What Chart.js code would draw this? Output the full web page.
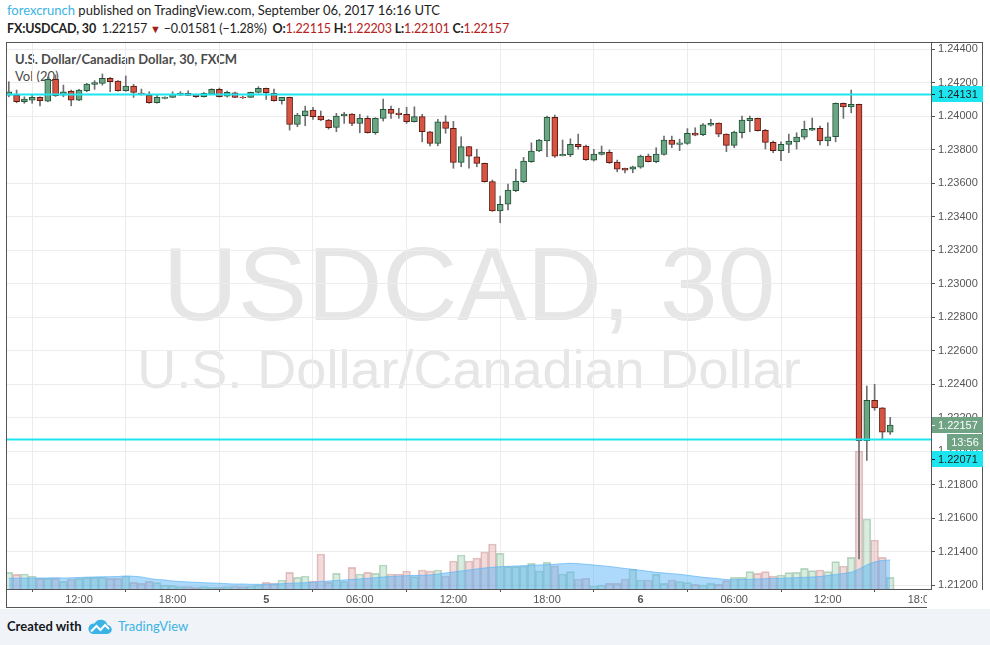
<!DOCTYPE html>
<html>
<head>
<meta charset="utf-8">
<script src="https://cdn.jsdelivr.net/npm/chart.js@4.4.0/dist/chart.umd.min.js"></script>
<style>
  html, body { margin: 0; padding: 0; }
  body { width: 990px; height: 645px; background: #fff; position: relative; overflow: hidden; font-family: Lato, 'Liberation Sans', sans-serif; }
  .abs { position: absolute; white-space: nowrap; }
  #head1 { left: 7px; top: 2px; font-size: 13px; color: #1e1e1e; }
  #head1 .who { color: #3bb3e4; }
  #head2 { left: 7px; top: 21px; font-size: 12.5px; color: #1e1e1e; font-weight: bold; letter-spacing: -0.15px; }
  #head2 .n { font-weight: normal; }
  #head2 .r { color: #b5201b; font-weight: normal; }
  #head2 .dn { color: #a31c15; font-size: 11px; }
  #panel { left: 6px; top: 42px; width: 977px; height: 566px; box-sizing: border-box; border: 1px solid #555; background: #fff; }
  #wm1 { left: 7px; width: 924px; top: 232px; text-align: center; font: 104px/104px 'Liberation Sans', Arial, sans-serif; color: #e6e6e6; }
  #wm2 { left: 7px; width: 924px; top: 342px; text-align: center; font: 54px/54px 'Liberation Sans', Arial, sans-serif; color: #e6e6e6; }
  #title { left: 15px; top: 51px; font-size: 13px; font-weight: bold; color: #4b4b4b; }
  #vol { left: 15px; top: 68px; font-size: 13px; color: #4b4b4b; }
  #foot { left: 0; top: 609px; width: 990px; height: 36px; background: #f0f3f7; }
  #created { left: 7px; top: 618px; font-size: 13px; font-weight: bold; color: #131722; }
  #logo { left: 88px; top: 619px; }
  #tv { left: 118px; top: 618px; font-size: 13px; color: #3bb3e4; }
  canvas { position: absolute; left: 0; top: 0; z-index: 2; }
</style>
</head>
<body>
<div class="abs" id="head1"><span class="who">forexcrunch</span> published on TradingView.com, September 06, 2017 16:16 UTC</div>
<div class="abs" id="head2">FX:USDCAD, 30&nbsp;&nbsp;<span class="n">1.22157</span> <span class="dn">&#9660;</span> <span class="n">&minus;0.01581 (&minus;1.28%)</span>&nbsp; O:<span class="r">1.22115</span> H:<span class="r">1.22203</span> L:<span class="r">1.22101</span> C:<span class="r">1.22157</span></div>
<div class="abs" id="panel"></div>
<div class="abs" id="wm1">USDCAD, 30</div>
<div class="abs" id="wm2">U.S. Dollar/Canadian Dollar</div>
<div class="abs" id="title">U.S. Dollar/Canadian Dollar, 30, FXCM</div>
<div class="abs" id="vol">Vol (20)</div>
<div class="abs" id="foot"></div>
<div class="abs" id="created">Created with</div>
<svg class="abs" id="logo" width="24" height="16" viewBox="0 0 24 16">
  <path d="M5 15 H19 A4.5 4.5 0 0 0 19.5 6 A7 7 0 0 0 6.5 4.5 A5.2 5.2 0 0 0 5 15Z" fill="#3bb3e4"/>
  <polyline points="3,12.5 8.5,7 12.5,11 17,6 21,10" fill="none" stroke="#fff" stroke-width="2"/>
</svg>
<div class="abs" id="tv">TradingView</div>
<canvas id="chart" width="990" height="645"></canvas>
<script>
// time axis: bar index -> label (30 min bars, bar 0 = Sep 4 07:30)
const timeIdx = [9, 21, 33, 45, 57, 69, 81, 93, 105, 117];
const timeLabels = ['12:00', '18:00', '5', '06:00', '12:00', '18:00', '6', '06:00', '12:00', '18:00'];
const dayLabels = ['5', '6'];
const priceTicks = [1.212, 1.214, 1.216, 1.218, 1.220, 1.222, 1.224, 1.226, 1.228, 1.230, 1.232, 1.234, 1.236, 1.238, 1.240, 1.242, 1.244];

const opens = [1.24127, 1.24127, 1.24087, 1.24097, 1.24113, 1.24091, 1.24221, 1.24127, 1.24151, 1.24097,
  1.24153, 1.24191, 1.24197, 1.24227, 1.24211, 1.24153, 1.24181, 1.24139, 1.24127, 1.24081,
  1.24107, 1.24113, 1.24127, 1.24137, 1.24131, 1.24117, 1.24133, 1.24161, 1.24121, 1.24141,
  1.24115, 1.24113, 1.24143, 1.24167, 1.24137, 1.24093, 1.24113, 1.23952, 1.24004, 1.24038,
  1.24002, 1.23978, 1.23934, 1.24002, 1.24014, 1.23958, 1.23988, 1.23902, 1.23988, 1.24042,
  1.24020, 1.24012, 1.23968, 1.23998, 1.23908, 1.23839, 1.23968, 1.23928, 1.23725, 1.23819,
  1.23759, 1.23719, 1.23610, 1.23435, 1.23475, 1.23556, 1.23610, 1.23729, 1.23793, 1.23854,
  1.23994, 1.23765, 1.23771, 1.23833, 1.23823, 1.23739, 1.23773, 1.23785, 1.23727, 1.23690,
  1.23684, 1.23696, 1.23763, 1.23729, 1.23772, 1.23859, 1.23833, 1.23839, 1.23900, 1.23890,
  1.23947, 1.23960, 1.23894, 1.23827, 1.23902, 1.23974, 1.23988, 1.23916, 1.23845, 1.23795,
  1.23833, 1.23848, 1.23875, 1.23918, 1.23928, 1.23854, 1.23878, 1.24078, 1.24057, 1.24072,
  1.22063, 1.22305, 1.22259, 1.22115];
const highs = [1.24207, 1.24157, 1.24117, 1.24127, 1.24117, 1.24236, 1.24247, 1.24187, 1.24157, 1.24161,
  1.24197, 1.24213, 1.24253, 1.24232, 1.24214, 1.24241, 1.24191, 1.24163, 1.24147, 1.24127,
  1.24117, 1.24147, 1.24147, 1.24153, 1.24133, 1.24143, 1.24165, 1.24169, 1.24151, 1.24145,
  1.24121, 1.24145, 1.24177, 1.24169, 1.24163, 1.24113, 1.24115, 1.24018, 1.24061, 1.24054,
  1.24032, 1.23982, 1.24018, 1.24024, 1.24017, 1.24012, 1.24002, 1.23992, 1.24103, 1.24061,
  1.24048, 1.24054, 1.24057, 1.24012, 1.23911, 1.23982, 1.24004, 1.23970, 1.23878, 1.23821,
  1.23803, 1.23721, 1.23620, 1.23524, 1.23596, 1.23685, 1.23755, 1.23842, 1.23863, 1.24002,
  1.24008, 1.23859, 1.23866, 1.23894, 1.23829, 1.23803, 1.23823, 1.23799, 1.23739, 1.23691,
  1.23703, 1.23769, 1.23775, 1.23813, 1.23882, 1.23882, 1.23864, 1.23927, 1.23932, 1.23957,
  1.23983, 1.23961, 1.23896, 1.23912, 1.24002, 1.24002, 1.23990, 1.23922, 1.23853, 1.23848,
  1.23894, 1.23902, 1.23972, 1.23990, 1.23942, 1.23962, 1.24080, 1.24080, 1.24157, 1.24073,
  1.22390, 1.22400, 1.22261, 1.22203];
const lows = [1.24117, 1.24081, 1.24078, 1.24078, 1.24063, 1.24087, 1.24119, 1.24117, 1.24063, 1.24094,
  1.24147, 1.24161, 1.24187, 1.24147, 1.24151, 1.24150, 1.24113, 1.24127, 1.24078, 1.24078,
  1.24104, 1.24112, 1.24125, 1.24124, 1.24113, 1.24115, 1.24131, 1.24115, 1.24115, 1.24112,
  1.24106, 1.24112, 1.24139, 1.24101, 1.24091, 1.24073, 1.23918, 1.23938, 1.23944, 1.23982,
  1.23974, 1.23924, 1.23908, 1.23958, 1.23944, 1.23902, 1.23900, 1.23893, 1.23972, 1.23988,
  1.23988, 1.23958, 1.23966, 1.23848, 1.23824, 1.23824, 1.23899, 1.23690, 1.23699, 1.23690,
  1.23699, 1.23607, 1.23433, 1.23365, 1.23441, 1.23550, 1.23604, 1.23725, 1.23789, 1.23759,
  1.23755, 1.23763, 1.23759, 1.23805, 1.23737, 1.23733, 1.23769, 1.23719, 1.23669, 1.23663,
  1.23663, 1.23690, 1.23727, 1.23723, 1.23769, 1.23813, 1.23795, 1.23833, 1.23884, 1.23885,
  1.23942, 1.23878, 1.23789, 1.23813, 1.23872, 1.23908, 1.23912, 1.23805, 1.23783, 1.23735,
  1.23783, 1.23805, 1.23863, 1.23915, 1.23829, 1.23824, 1.23848, 1.23988, 1.24021, 1.21357,
  1.21946, 1.22245, 1.22075, 1.22101];
const closes = [1.24147, 1.24087, 1.24103, 1.24113, 1.24093, 1.24221, 1.24123, 1.24147, 1.24097, 1.24157,
  1.24193, 1.24201, 1.24227, 1.24207, 1.24153, 1.24181, 1.24143, 1.24136, 1.24081, 1.24113,
  1.24113, 1.24131, 1.24139, 1.24125, 1.24117, 1.24137, 1.24161, 1.24117, 1.24143, 1.24113,
  1.24111, 1.24143, 1.24167, 1.24141, 1.24093, 1.24113, 1.23952, 1.24008, 1.24033, 1.23998,
  1.23978, 1.23932, 1.24002, 1.24014, 1.23958, 1.23988, 1.23902, 1.23988, 1.24042, 1.24018,
  1.24010, 1.23968, 1.23998, 1.23908, 1.23839, 1.23968, 1.23928, 1.23725, 1.23819, 1.23763,
  1.23719, 1.23610, 1.23436, 1.23475, 1.23560, 1.23614, 1.23733, 1.23793, 1.23859, 1.23994,
  1.23763, 1.23773, 1.23833, 1.23819, 1.23741, 1.23775, 1.23787, 1.23723, 1.23685, 1.23679,
  1.23699, 1.23763, 1.23729, 1.23775, 1.23859, 1.23832, 1.23842, 1.23899, 1.23888, 1.23949,
  1.23959, 1.23893, 1.23827, 1.23906, 1.23978, 1.23988, 1.23914, 1.23845, 1.23795, 1.23833,
  1.23853, 1.23876, 1.23922, 1.23928, 1.23854, 1.23878, 1.24078, 1.24057, 1.24072, 1.22063,
  1.22305, 1.22259, 1.22115, 1.22157];
const volumes = [1670, 1470, 1500, 1300, 1070, 1070, 1070, 770, 1000, 1070,
  1170, 1170, 1170, 1070, 1070, 1300, 670, 570, 770, 630,
  400, 330, 230, 230, 170, 230, 170, 170, 230, 300,
  230, 300, 400, 670, 570, 900, 1670, 1170, 1300, 800,
  3500, 670, 1570, 730, 2170, 1500, 1670, 1570, 2400, 1500,
  1500, 1800, 1230, 1900, 1800, 1900, 1300, 2800, 3400, 2800,
  3100, 3700, 4500, 3570, 2230, 2230, 2300, 2570, 1800, 2670,
  2300, 1500, 1730, 1000, 1070, 300, 400, 570, 570, 1000,
  1970, 900, 900, 1470, 570, 900, 730, 630, 470, 400,
  570, 470, 830, 1170, 1170, 1730, 1570, 1730, 1300, 1400,
  1630, 1670, 2070, 1830, 1900, 1730, 2730, 2300, 3170, 13800,
  7000, 4900, 3170, 1170];
// Vol (20) average
const volumeMA = [1070, 1080, 1090, 1100, 1100, 1100, 1120, 1100, 1120, 1150,
  1180, 1200, 1220, 1230, 1250, 1300, 1270, 1200, 1050, 950,
  900, 800, 750, 700, 670, 630, 600, 570, 530, 500,
  500, 470, 470, 470, 500, 530, 570, 600, 630, 670,
  750, 800, 850, 900, 950, 1000, 1070, 1130, 1200, 1250,
  1300, 1330, 1350, 1370, 1400, 1500, 1600, 1700, 1800, 1900,
  2000, 2100, 2170, 2230, 2270, 2300, 2330, 2370, 2400, 2430,
  2470, 2530, 2570, 2530, 2470, 2400, 2330, 2250, 2150, 2050,
  1970, 1870, 1770, 1670, 1600, 1530, 1470, 1370, 1270, 1170,
  1100, 1030, 950, 930, 950, 970, 1000, 1030, 1070, 1070,
  1100, 1130, 1170, 1200, 1250, 1350, 1450, 1550, 1670, 2000,
  2400, 2700, 2850, 2900];
const levels = [1.24131, 1.22071];
const countdown = '13:56';

const xMin = -0.23, xMax = 118.23;
const upFill = '#6ba583', upLine = '#225437';
const dnFill = '#d75442', dnLine = '#5b1a13';
const isUp = opens.map((o, i) => closes[i] >= o);
const cyan = '#1ce5f0';

Chart.defaults.font.family = "'Liberation Sans', Arial, sans-serif";
Chart.defaults.font.size = 11;

// price labels on the right axis (drawing levels, last price, countdown)
const axisLabels = {
  id: 'axisLabels',
  afterDraw(chart) {
    const c = chart.ctx, ys = chart.scales.y, a = chart.chartArea;
    const x0 = a.right, x1 = a.right + 52;
    // white strip so the cut-off time label looks like the reference
    c.fillStyle = '#fff';
    c.fillRect(x0 - 4, a.bottom + 1, 56, 18);
    function box(yc, fill, color, text, left) {
      c.fillStyle = fill;
      c.fillRect(left, Math.round(yc) - 8, x1 - left, 16);
      c.fillStyle = color;
      c.font = "11px 'Liberation Sans', Arial, sans-serif";
      c.textBaseline = 'middle';
      c.textAlign = left === x0 ? 'left' : 'center';
      c.fillText(text, left === x0 ? x0 + 7 : (left + x1) / 2, Math.round(yc) + 0.5);
      if (left === x0) {
        c.fillRect(x0 + 1, Math.round(yc), 3, 1);
      }
    }
    const last = closes[closes.length - 1];
    const yLast = ys.getPixelForValue(last);
    box(ys.getPixelForValue(levels[0]), cyan, '#1d1d1d', levels[0].toFixed(5), x0);
    box(yLast, '#6fa383', '#fff', last.toFixed(5), x0);
    box(yLast + 17, '#6fa383', '#fff', countdown, x0 + 16);
    const yLow = Math.max(ys.getPixelForValue(levels[1]), yLast + 34);
    box(yLow, cyan, '#1d1d1d', levels[1].toFixed(5), x0);
    c.save();
    c.strokeStyle = '#555';
    c.beginPath();
    c.moveTo(x0 + 0.5, a.top);
    c.lineTo(x0 + 0.5, a.bottom);
    c.moveTo(a.left, a.bottom + 0.5);
    c.lineTo(x0 + 0.5, a.bottom + 0.5);
    c.stroke();
    c.restore();
  }
};

new Chart(document.getElementById('chart'), {
  type: 'bar',
  data: {
    datasets: [
      {
        type: 'line',
        label: 'level hi',
        data: [{ x: xMin, y: levels[0] }, { x: xMax, y: levels[0] }],
        yAxisID: 'y',
        borderColor: cyan,
        borderWidth: 2,
        pointRadius: 0,
        order: 0
      },
      {
        type: 'line',
        label: 'level lo',
        data: [{ x: xMin, y: levels[1] }, { x: xMax, y: levels[1] }],
        yAxisID: 'y',
        borderColor: cyan,
        borderWidth: 2,
        pointRadius: 0,
        order: 0
      },
      {
        label: 'body',
        data: opens.map((o, i) => ({ x: i, y: [o, closes[i]] })),
        yAxisID: 'y',
        backgroundColor: isUp.map(u => u ? upFill : dnFill),
        borderColor: isUp.map(u => u ? upLine : dnLine),
        borderWidth: 1,
        borderSkipped: false,
        barThickness: 6,
        grouped: false,
        order: 1
      },
      {
        label: 'wick',
        data: lows.map((l, i) => ({ x: i, y: [l, highs[i]] })),
        yAxisID: 'y',
        backgroundColor: '#6f6f72',
        barThickness: 1,
        grouped: false,
        order: 2
      },
      {
        type: 'line',
        label: 'Vol MA',
        data: volumeMA.map((v, i) => ({ x: i, y: v })),
        yAxisID: 'vol',
        borderColor: 'rgba(92,180,245,0.7)',
        borderWidth: 1,
        backgroundColor: 'rgba(92,180,245,0.5)',
        fill: 'origin',
        tension: 0.35,
        pointRadius: 0,
        order: 3
      },
      {
        label: 'Vol',
        data: volumes.map((v, i) => ({ x: i, y: v })),
        yAxisID: 'vol',
        backgroundColor: isUp.map(u => u ? 'rgba(107,180,131,0.25)' : 'rgba(200,110,110,0.25)'),
        borderColor: isUp.map(u => u ? 'rgba(107,170,131,0.45)' : 'rgba(190,110,110,0.4)'),
        borderWidth: 1,
        barPercentage: 1,
        categoryPercentage: 1,
        grouped: false,
        order: 4
      }
    ]
  },
  options: {
    responsive: false,
    animation: false,
    devicePixelRatio: 1,
    layout: { padding: { left: 7, top: 43, right: 7, bottom: 37 } },
    plugins: { legend: { display: false }, tooltip: { enabled: false } },
    scales: {
      x: {
        type: 'linear',
        min: xMin,
        max: xMax,
        offset: false,
        position: 'bottom',
        afterBuildTicks: s => { s.ticks = timeIdx.map(v => ({ value: v })); },
        afterFit: s => { s.height = 19; },
        grid: { color: '#ececec', tickColor: '#555', tickLength: 3 },
        border: { color: '#555' },
        ticks: {
          autoSkip: false,
          maxRotation: 0,
          padding: 1,
          color: '#555',
          font: ctx => ({ size: 11, weight: dayLabels.includes(timeLabels[ctx.index]) ? 'bold' : 'normal' }),
          callback: v => timeLabels[timeIdx.indexOf(v)]
        }
      },
      y: {
        position: 'right',
        min: 1.21178,
        max: 1.24438,
        afterBuildTicks: s => { s.ticks = priceTicks.map(v => ({ value: v })); },
        afterFit: s => { s.width = 52; },
        grid: { color: '#ececec', tickColor: '#555', tickLength: 4 },
        border: { color: '#555' },
        ticks: { color: '#555', padding: 3, callback: v => v.toFixed(5) }
      },
      vol: { display: false, min: 0, max: 54600 }
    }
  },
  plugins: [axisLabels]
});
</script>
</body>
</html>
